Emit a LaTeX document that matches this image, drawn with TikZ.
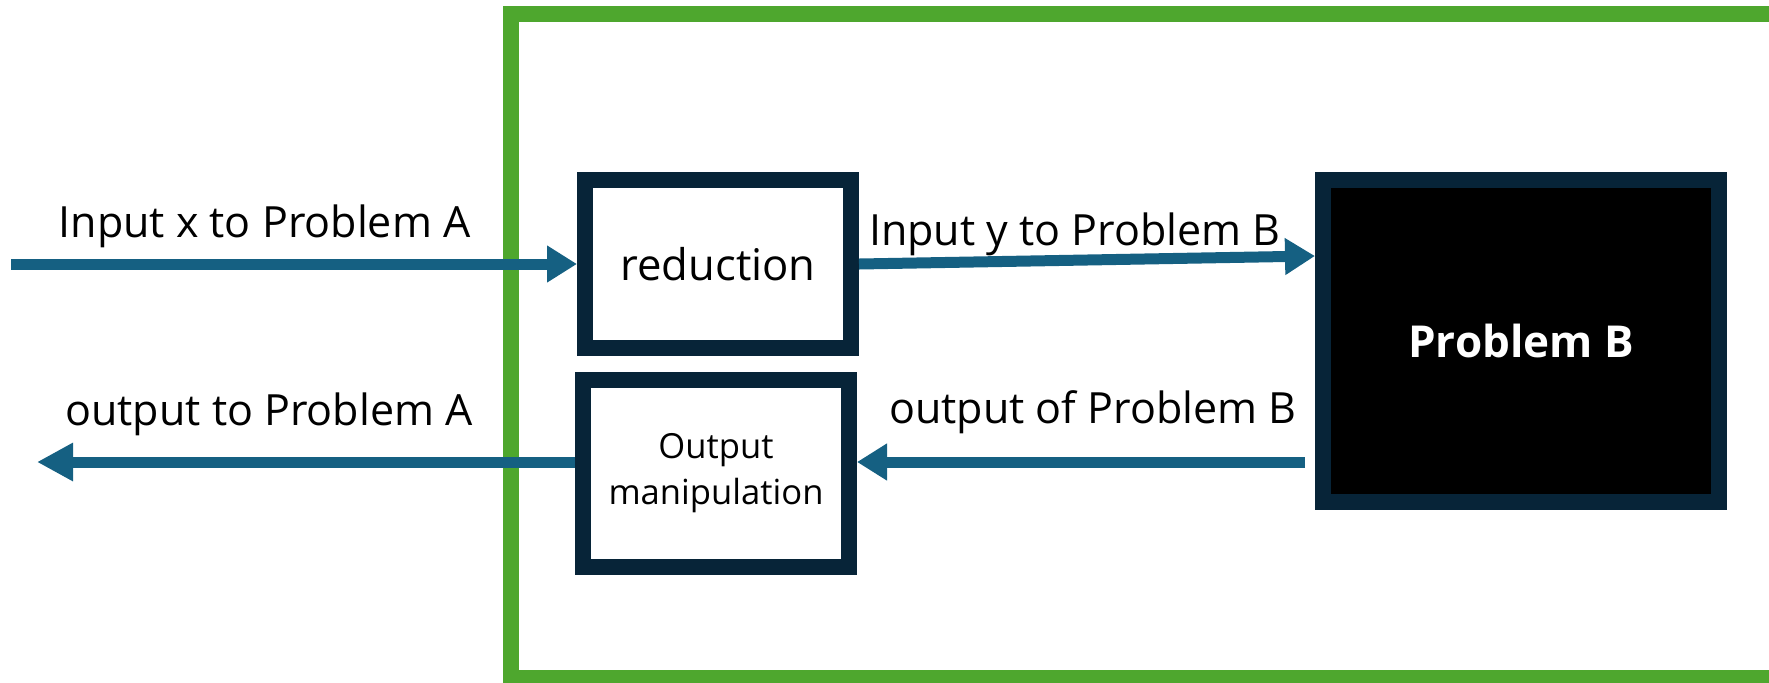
\documentclass[tikz,border=0pt]{standalone}
\usepackage{fontspec}
\setmainfont{Open Sans}
\usetikzlibrary{arrows.meta}
\definecolor{framegreen}{HTML}{4EA72E}
\definecolor{navy}{HTML}{072438}
\definecolor{flow}{HTML}{156082}
\begin{document}
\begin{tikzpicture}[x=0.5pt,y=-0.5pt,
  box/.style={draw=navy, line width=8pt, rectangle, inner sep=0pt, align=center},
  lbl/.style={font=\fontsize{21.5}{26}\selectfont, anchor=base, inner sep=0pt},
  flowline/.style={draw=flow, line width=5.5pt, -{Triangle[length=15pt,width=17.5pt]}},
]
\useasboundingbox (0,0) rectangle (1769,682);
\clip (0,0) rectangle (1769,682);

% enclosing frame (its right side runs off the page)
\draw[framegreen, line width=8pt] (511,14) rectangle (1800,678);

% blocks
\node[box, minimum width=133pt, minimum height=84pt,
      font=\fontsize{21.8}{26}\selectfont] (red) at (718,264) {reduction};
\node[box, minimum width=133pt, minimum height=93.5pt,
      font=\fontsize{17.3}{23}\selectfont] (out) at (716,473.5) {Output\\manipulation};
\node[box, fill=black, text=white, minimum width=198pt, minimum height=161pt,
      font=\fontsize{22}{26}\selectfont\bfseries] (pB) at (1521,341) {Problem B};

% free ends of the outer arrows
\coordinate (ain) at (11,264);
\coordinate (aout) at (37,462);

% connectors
\draw[flowline] (ain) -- (red.west);
\draw[flowline] (red.east) -- ([yshift=42.5pt]pB.west);
\draw[flowline] ([xshift=-5pt,yshift=-60.5pt]pB.west) -- ([yshift=5.75pt]out.east);
\draw[draw=flow, line width=5.5pt, -{Triangle[length=18pt,width=18pt]}]
      ([yshift=5.75pt]out.west) -- (aout);

% connector labels
\node[lbl] (lin) at (264.5,237) {Input x to Problem A};
\node[lbl] (liny) at (1075,245.5) {Input y to Problem B};
\node[lbl] (loutb) at (1093,423) {output of Problem B};
\node[lbl] (louta) at (269,425) {output to Problem A};
\end{tikzpicture}
\end{document}
